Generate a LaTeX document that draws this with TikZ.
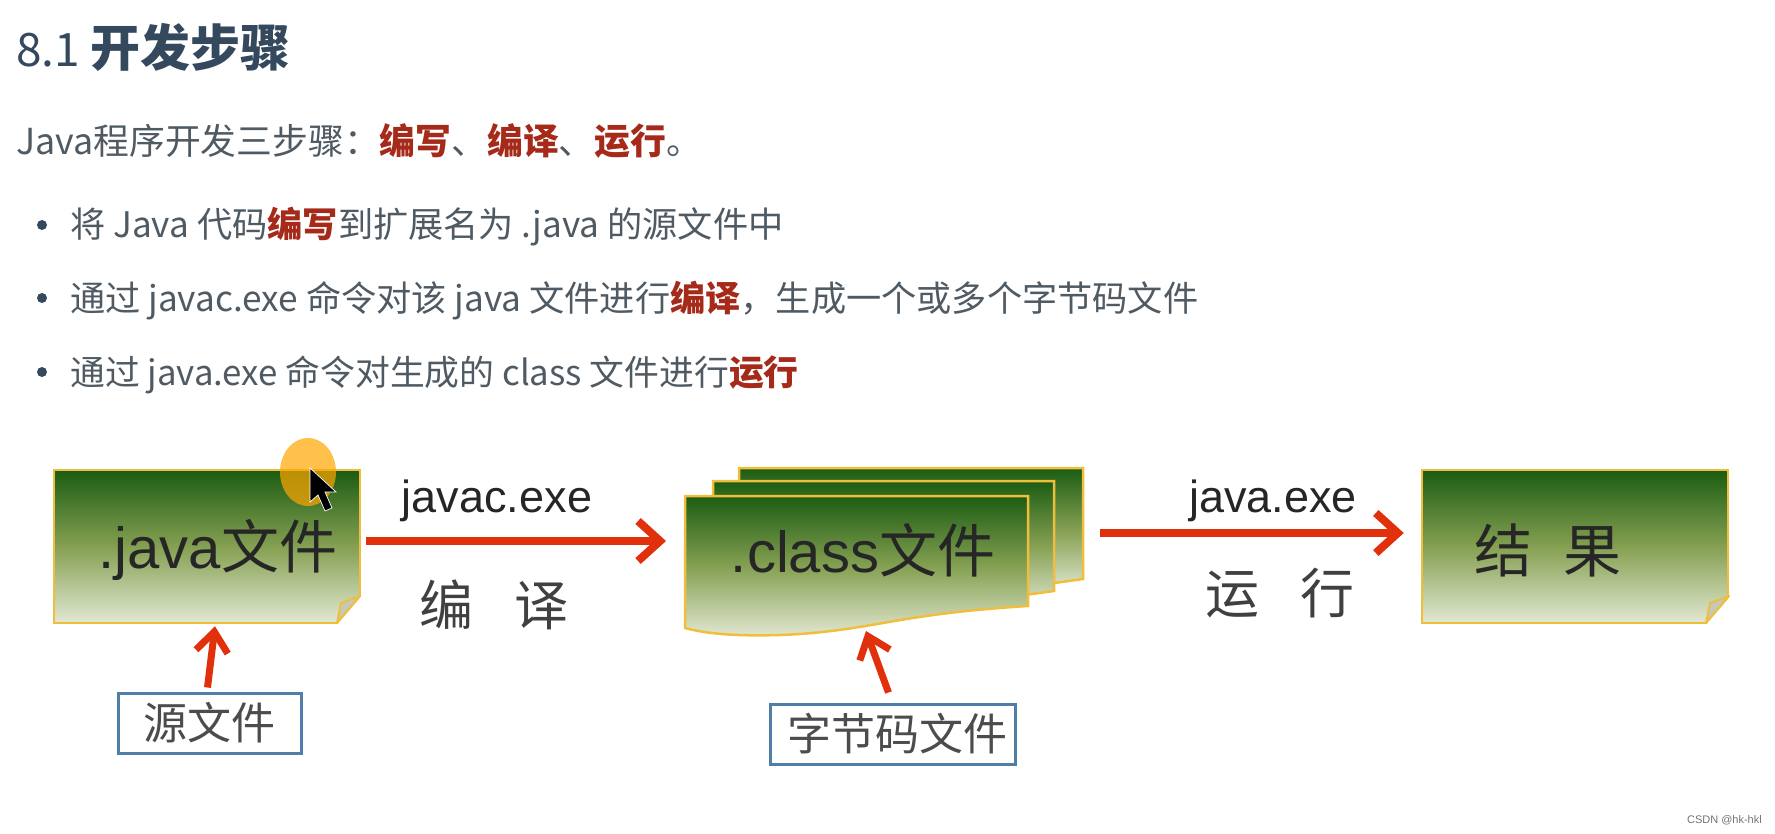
\documentclass[tikz,border=0pt]{standalone}
\usepackage{fontspec}
\setmainfont{Noto Sans CJK SC}
\newfontfamily\latinfont{Liberation Sans}
\usetikzlibrary{arrows.meta}
\definecolor{inkgray}{HTML}{4F5A63}
\definecolor{headblue}{HTML}{34495E}
\definecolor{markred}{HTML}{A52A1A}
\definecolor{notegold}{HTML}{F0BE3C}
\definecolor{notedark}{HTML}{1B5C12}
\definecolor{notemid}{HTML}{85A052}
\definecolor{notelight}{HTML}{E2E8D2}
\definecolor{arrowred}{HTML}{E0300C}
\definecolor{tagblue}{HTML}{4F7FA8}
\newcommand{\fsize}[1]{\fontsize{#1pt}{#1pt}\selectfont}
\newcommand{\mk}[1]{\textcolor{markred}{\textbf{#1}}}
\tikzset{
  bodytext/.style={anchor=base west, inner sep=0pt, text=inkgray, font=\fsize{35.2}},
  bulletdot/.style={circle, fill=headblue, inner sep=0pt, minimum size=10pt},
  notefill/.style={top color=notedark, bottom color=notelight, middle color=notemid, draw=notegold, line width=2.5pt},
  notebox/.style={rectangle, notefill, minimum width=306pt, minimum height=153pt},
  foldcorner/.style={fill=notelight!70!gray, draw=notegold, line width=2pt, line join=round},
  bigtext/.style={inner sep=0pt, text=black!85, font=\fsize{58}},
  cmdtext/.style={inner sep=0pt, text=black!85, font=\latinfont\fsize{45}},
  steptext/.style={inner sep=0pt, text=black!75, font=\fsize{54}},
  tagbox/.style={rectangle, draw=tagblue, line width=3pt, fill=white, inner sep=0pt, minimum height=60pt, text=black!70, font=\fsize{44}},
  redarrow/.style={draw=arrowred, line width=8pt, -{Straight Barb[length=22pt, width=40pt, line width=8pt]}},
  tagarrow/.style={draw=arrowred, line width=7pt, -{Straight Barb[length=20pt, width=32pt, line width=7pt]}}
}
\begin{document}
\begin{tikzpicture}[x=1pt, y=-1pt]
\useasboundingbox (0,0) rectangle (1775,833);
\node[anchor=base west, inner sep=0pt, text=headblue, font=\fsize{46}] (title) at (16,66){8.1 \textbf{\fsize{50}开发步骤}};
\node[bodytext, font=\fsize{35.8}] (intro) at (16,154){Java程序开发三步骤：\mk{编写}、\mk{编译}、\mk{运行}。};
\node[bulletdot] (dot1) at (42,225){};
\node[bodytext] (line1) at (70,237){将 Java 代码\mk{编写}到扩展名为 .java 的源文件中};
\node[bulletdot] (dot2) at (42,298){};
\node[bodytext] (line2) at (70,311){通过 javac.exe 命令对该 java 文件进行\mk{编译}，生成一个或多个字节码文件};
\node[bulletdot] (dot3) at (42,372){};
\node[bodytext, font=\fsize{34.8}] (line3) at (70,385){通过 java.exe 命令对生成的 class 文件进行\mk{运行}};
\node[notebox] (javabox) at (207,546.5){};
\fill[white] (361.5,596) -- (361.5,625) -- (337,625) -- cycle;
\draw[foldcorner] (360,596) -- (341,603) -- (337,623) -- cycle;
\fill[orange!70!yellow, opacity=.7] (308,472) ellipse (28 and 34);
\fill[black, draw=white, line width=.7pt] (310,468) -- (310,502) -- (318,495) -- (325,511) -- (332,508) -- (325,492) -- (336,492) -- cycle;
\node[bigtext] (javatext) at (218,550){\latinfont .java\normalfont 文件};
\shadedraw[notefill] (739,468) -- (1083,468) -- (1083,579) -- (1040,585) -- (739,592) -- cycle;
\shadedraw[notefill] (713,481) -- (1054,481) -- (1054,591) -- (1010,597) -- (713,610) -- cycle;
\shadedraw[notefill] (685,496) -- (1028,496) -- (1028,606) .. controls (900,614) and (880,628) .. (800,634) .. controls (750,637) and (710,635) .. (685,628) -- cycle;
\node[bigtext] (classtext) at (863,550){\latinfont .class\normalfont 文件};
\node[notebox] (resultbox) at (1575,546.5){};
\fill[white] (1730.5,596) -- (1730.5,625) -- (1706,625) -- cycle;
\draw[foldcorner] (1729,596) -- (1710,603) -- (1706,623) -- cycle;
\node[bigtext] (resulttext) at (1548,550){结\hspace{0.55em}果};
\node[cmdtext] (javac) at (497,501){javac.exe};
\node[steptext] (compile) at (494,605){编\hspace{0.75em}译};
\node[cmdtext] (javaexe) at (1273,501){java.exe};
\node[steptext] (runtext) at (1280,593){运\hspace{0.75em}行};
\node[tagbox, minimum width=183pt] (srcbox) at (209.5,723){源文件};
\node[tagbox, minimum width=245pt] (bytebox) at (892.5,734){\hspace*{10pt}字节码文件};
\coordinate (classin) at (666,541);
\coordinate (classout) at (1100,533);
\coordinate (classbottom) at (866,631);
\draw[redarrow] ([xshift=5pt, yshift=5.5pt]javabox.east) -- (classin);
\draw[redarrow] (classout) -- ([xshift=-17pt, yshift=13.5pt]resultbox.west);
\draw[tagarrow] ([xshift=-2pt, yshift=4pt]srcbox.north) -- ([xshift=8pt, yshift=-2pt]javabox.south);
\draw[tagarrow] ([xshift=-4pt, yshift=10pt]bytebox.north) -- (classbottom);
\node[anchor=base east, inner sep=0pt, text=black!55, font=\latinfont\fsize{11}] (mark) at (1762,823){CSDN @hk-hkl};
\end{tikzpicture}
\end{document}
